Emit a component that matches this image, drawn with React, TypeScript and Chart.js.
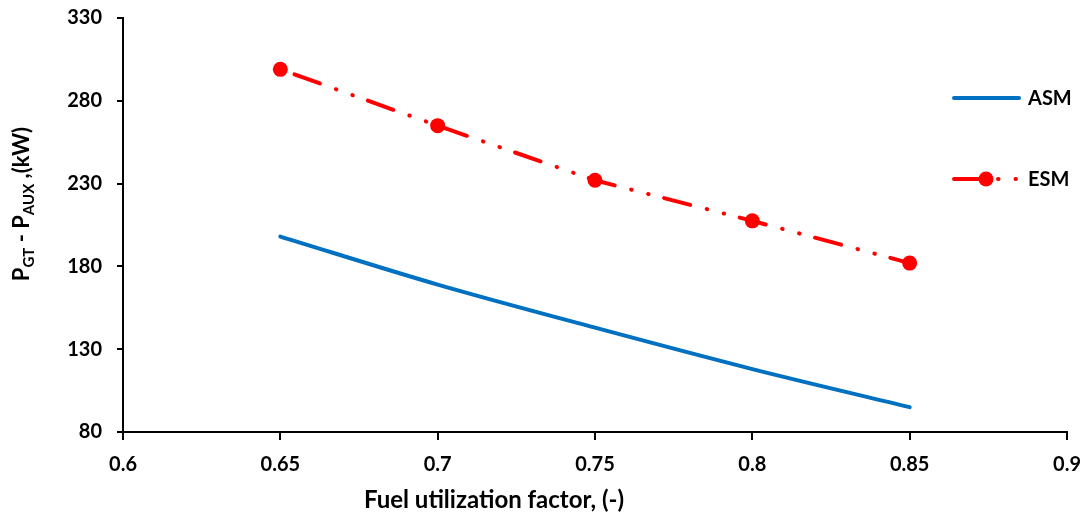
import React, { useEffect, useRef } from "react";
import { Chart, registerables } from "chart.js";

Chart.register(...registerables);

const xValues = [0.65, 0.7, 0.75, 0.8, 0.85];
const asmValues = [198, 169, 143, 118, 95];
const esmValues = [299, 265, 232, 207.5, 182];
const seriesNames = ["ASM", "ESM"];
const xTitle = "Fuel utilization factor, (-)";
const yTitleParts = [
  { t: "P", sub: false },
  { t: "GT", sub: true },
  { t: " - P", sub: false },
  { t: "AUX", sub: true },
  { t: " ,(kW)", sub: false },
];

const FONT = "Lato, 'Open Sans', sans-serif";
const W = "bold";
const BLUE = "#0070C0";
const RED = "#FF0000";
const DASH = [27, 17, 0.5, 17, 0.5, 16];

const overlayPlugin = {
  id: "overlay",
  afterDraw(chart: any) {
    const ctx = chart.ctx as CanvasRenderingContext2D;
    const ca = chart.chartArea;
    ctx.save();
    // legend
    const lx0 = ca.right - 113;
    const lx1 = ca.right - 48;
    const tx = ca.right - 39;
    const y1 = ca.top + 80;
    const y2 = ca.top + 161;
    ctx.lineCap = "round";
    ctx.strokeStyle = BLUE;
    ctx.lineWidth = 4;
    ctx.beginPath();
    ctx.moveTo(lx0, y1);
    ctx.lineTo(lx1, y1);
    ctx.stroke();
    ctx.strokeStyle = RED;
    ctx.lineWidth = 4;
    ctx.setLineDash(DASH);
    ctx.beginPath();
    ctx.moveTo(lx0, y2);
    ctx.lineTo(lx1, y2);
    ctx.stroke();
    ctx.setLineDash([]);
    ctx.fillStyle = RED;
    ctx.beginPath();
    ctx.arc(ca.right - 81, y2, 7.5, 0, Math.PI * 2);
    ctx.fill();
    ctx.fillStyle = "#000";
    ctx.font = `${W} 20px ${FONT}`;
    ctx.textBaseline = "middle";
    ctx.textAlign = "left";
    ctx.fillText(seriesNames[0], tx, y1 + 1);
    ctx.fillText(seriesNames[1], tx, y2 + 1);

    // x title
    ctx.font = `${W} 24px ${FONT}`;
    ctx.textAlign = "center";
    ctx.textBaseline = "alphabetic";
    ctx.fillText(xTitle, ca.left + 371, ca.bottom + 76);

    // y title with subscripts
    ctx.textAlign = "left";
    const big = `${W} 22px ${FONT}`;
    const small = `${W} 15px ${FONT}`;
    let total = 0;
    for (const p of yTitleParts) {
      ctx.font = p.sub ? small : big;
      total += ctx.measureText(p.t).width;
    }
    const cy = 204;
    ctx.translate(29, cy);
    ctx.rotate(-Math.PI / 2);
    let x = -total / 2;
    for (const p of yTitleParts) {
      ctx.font = p.sub ? small : big;
      ctx.fillText(p.t, x, p.sub ? 5 : 0);
      x += ctx.measureText(p.t).width;
    }
    ctx.restore();
  },
};

export default function App() {
  const ref = useRef<HTMLCanvasElement>(null);
  useEffect(() => {
    if (!ref.current) return;
    const chart = new Chart(ref.current, {
      type: "line",
      data: {
        datasets: [
          {
            label: seriesNames[0],
            data: xValues.map((x, i) => ({ x, y: asmValues[i] })),
            borderColor: BLUE,
            backgroundColor: BLUE,
            borderWidth: 4,
            pointRadius: 0,
            cubicInterpolationMode: "monotone",
            borderCapStyle: "round",
          },
          {
            label: seriesNames[1],
            data: xValues.map((x, i) => ({ x, y: esmValues[i] })),
            borderColor: RED,
            backgroundColor: RED,
            borderWidth: 4,
            borderDash: DASH,
            borderDashOffset: 63,
            borderCapStyle: "round",
            pointRadius: 7.5,
            pointBorderWidth: 0,
            pointBackgroundColor: RED,
          },
        ],
      },
      options: {
        animation: false,
        responsive: false,
        layout: { padding: { top: 18, right: 17, left: 0, bottom: 0 } },
        plugins: { legend: { display: false }, tooltip: { enabled: false } },
        scales: {
          x: {
            type: "linear",
            min: 0.6,
            max: 0.9,
            ticks: {
              stepSize: 0.05,
              color: "#000",
              font: { family: FONT, size: 20, weight: W },
              padding: 13,
              maxRotation: 0,
              callback: (v: any) => String(Math.round(Number(v) * 100) / 100),
            },
            grid: { drawOnChartArea: false, drawTicks: true, tickLength: 8, color: "#000", lineWidth: 2 },
            border: { display: true, color: "#000", width: 2 },
            title: { display: false },
            afterFit: (s: any) => {
              s.height = 82;
              s.paddingLeft = 0;
              s.paddingRight = 0;
            },
          },
          y: {
            min: 80,
            max: 330,
            ticks: {
              stepSize: 50,
              color: "#000",
              font: { family: FONT, size: 20, weight: W },
              padding: 15,
            },
            grid: { drawOnChartArea: false, drawTicks: true, tickLength: 6, color: "#000", lineWidth: 2 },
            border: { display: true, color: "#000", width: 2 },
            afterFit: (s: any) => {
              s.width = 123;
              s.paddingTop = 0;
              s.paddingBottom = 0;
            },
          },
        },
      },
      plugins: [overlayPlugin],
    } as any);
    return () => chart.destroy();
  }, []);
  return (
    <div style={{ position: "fixed", left: 0, top: 0, width: 1084, height: 514, background: "#fff" }}>
      <canvas ref={ref} width={1084} height={514} style={{ display: "block" }} />
    </div>
  );
}
